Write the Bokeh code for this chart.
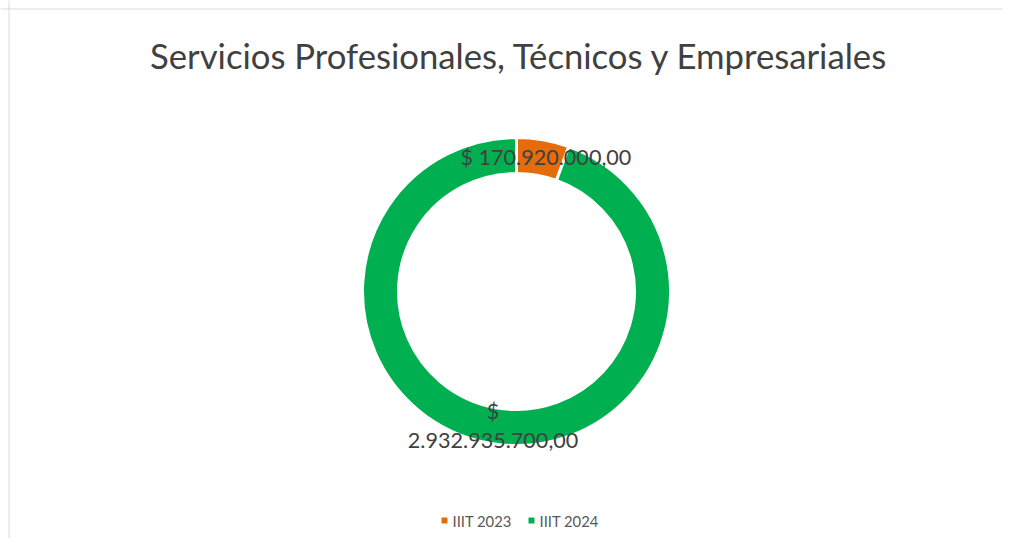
import math
from bokeh.plotting import figure
from bokeh.models import Range1d, Span, ColumnDataSource, Label
from bokeh.core.properties import value
from bokeh.embed import file_html
from bokeh.resources import INLINE

# ---- data ----
title_text = "Servicios Profesionales, Técnicos y Empresariales"
categories = ["IIIT 2023", "IIIT 2024"]
amounts = [170920000.00, 2932935700.00]
label_texts = ["$ 170.920.000,00", "$\n2.932.935.700,00"]
colors = ["#E46C0A", "#00B050"]

W, H = 1002, 538
FONT = "Lato"

p = figure(width=W, height=H, x_range=Range1d(0, W), y_range=Range1d(0, H),
           x_axis_type=None, y_axis_type=None, toolbar_location=None,
           output_backend="svg", min_border=0)
p.grid.visible = False
p.outline_line_color = None
p.background_fill_color = "white"
p.border_fill_color = "white"

def py(y):
    return H - y

# border (top and left visible)
p.add_layout(Span(location=py(8.5), dimension="width", line_color="#D9D9D9", line_width=1))
p.add_layout(Span(location=8.5, dimension="height", line_color="#D9D9D9", line_width=1))

# donut geometry
cx, cy = 516, py(291)
r_out, r_in = 154, 118

total = sum(amounts)
starts, ends, mids = [], [], []
a = math.pi / 2
for v in amounts:
    da = 2 * math.pi * v / total
    starts.append(a)
    ends.append(a - da)
    mids.append(a - da / 2)
    a -= da

src = ColumnDataSource(dict(start=starts, end=ends, color=colors))
p.annular_wedge(x=cx, y=cy, inner_radius=r_in, outer_radius=r_out,
                start_angle="start", end_angle="end", direction="clock",
                fill_color="color", line_color="white", line_width=3, source=src)

r_mid = (r_in + r_out) / 2
lx = [cx + r_mid * math.cos(m) for m in mids]
ly = [cy + r_mid * math.sin(m) for m in mids]
lx[0] += 6
ly[0] += 1
lsrc = ColumnDataSource(dict(x=lx, y=ly, t=label_texts))
p.text(x="x", y="y", text="t", source=lsrc, text_align="center", text_baseline="middle",
       text_font=value(FONT), text_font_size="21.6px", text_color="#404040",
       text_line_height=1.15)

# title
p.add_layout(Label(x=519, y=py(55), text=title_text, text_align="center",
                   text_baseline="middle", text_font=FONT, text_font_size="34.7px",
                   text_color="#404040"))

# legend
leg_x = [444, 531]
leg_y = py(520)
p.scatter(x=leg_x, y=[leg_y] * 2, marker="square", size=6, fill_color=colors, line_color=None)
p.text(x=[x + 8 for x in leg_x], y=[leg_y] * 2, text=categories, text_align="left",
       text_baseline="middle", text_font=value(FONT), text_font_size="14.8px",
       text_color="#595959")

open("out.html", "w").write(file_html(p, INLINE))
